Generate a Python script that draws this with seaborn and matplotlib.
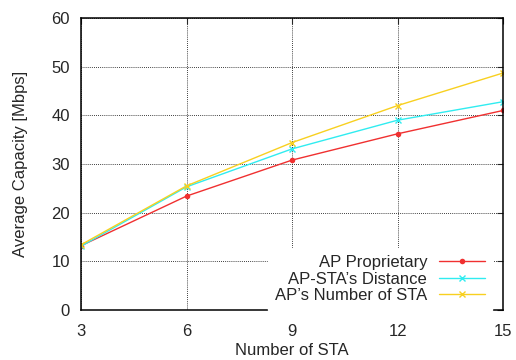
import numpy as np
import pandas as pd
import seaborn as sns
import matplotlib.pyplot as plt

n_sta = [3, 6, 9, 12, 15]
ap_proprietary = [13.2, 23.4, 30.8, 36.2, 41.0]
ap_sta_distance = [13.1, 25.3, 33.1, 39.0, 42.8]
ap_number_sta = [13.4, 25.5, 34.4, 42.0, 48.7]
series_names = ["AP Proprietary", "AP-STA\u2019s Distance", "AP\u2019s Number of STA"]
colors = ["#f03030", "#30ecf0", "#f8d020"]
markers = ["o", "x", "x"]

df = pd.DataFrame({
    "n": n_sta * 3,
    "cap": ap_proprietary + ap_sta_distance + ap_number_sta,
    "series": np.repeat(series_names, len(n_sta)),
})

sns.set_style("white")
plt.rcParams['font.family'] = ['Liberation Sans', 'DejaVu Sans']
fs = 12

fig = plt.figure(figsize=(5.16, 3.6), dpi=100)
ax = fig.add_axes([0.157, 0.139, 0.818, 0.811])

for name, c, m in zip(series_names, colors, markers):
    sub = df[df["series"] == name]
    sns.lineplot(data=sub, x="n", y="cap", color=c, marker=m, markersize=4,
                 markeredgecolor=c, markerfacecolor=c,
                 markeredgewidth=1 if m == "x" else 0, linewidth=1, label=name, ax=ax)

ax.set_xlim(3, 15)
ax.set_ylim(0, 60)
ax.set_xticks(n_sta)
ax.set_yticks(range(0, 61, 10))
ax.grid(True, color="black", linestyle=(0, (1, 1.5)), linewidth=0.6)
ax.tick_params(direction="in", top=True, right=True, length=4, width=0.8, labelsize=fs)
ax.tick_params(axis="x", pad=10)
ax.tick_params(axis="y", pad=8)
for s in ax.spines.values():
    s.set_color("black")
    s.set_linewidth(1.1)
ax.set_xlabel("Number of STA", fontsize=fs, labelpad=3)
ax.set_ylabel("Average Capacity [Mbps]", fontsize=fs, labelpad=17)

leg = ax.legend(loc="lower right", bbox_to_anchor=(0.974, 0.0), markerfirst=False,
                frameon=True, fancybox=False, handlelength=2.8, handletextpad=0.7,
                labelspacing=0.1, borderaxespad=0, borderpad=0.4, fontsize=fs)
leg.get_frame().set_edgecolor("white")
leg.get_frame().set_facecolor("white")
leg.get_frame().set_alpha(1)
for t in leg.get_texts():
    t.set_ha("right")

fig.savefig("out.png", dpi=100)
